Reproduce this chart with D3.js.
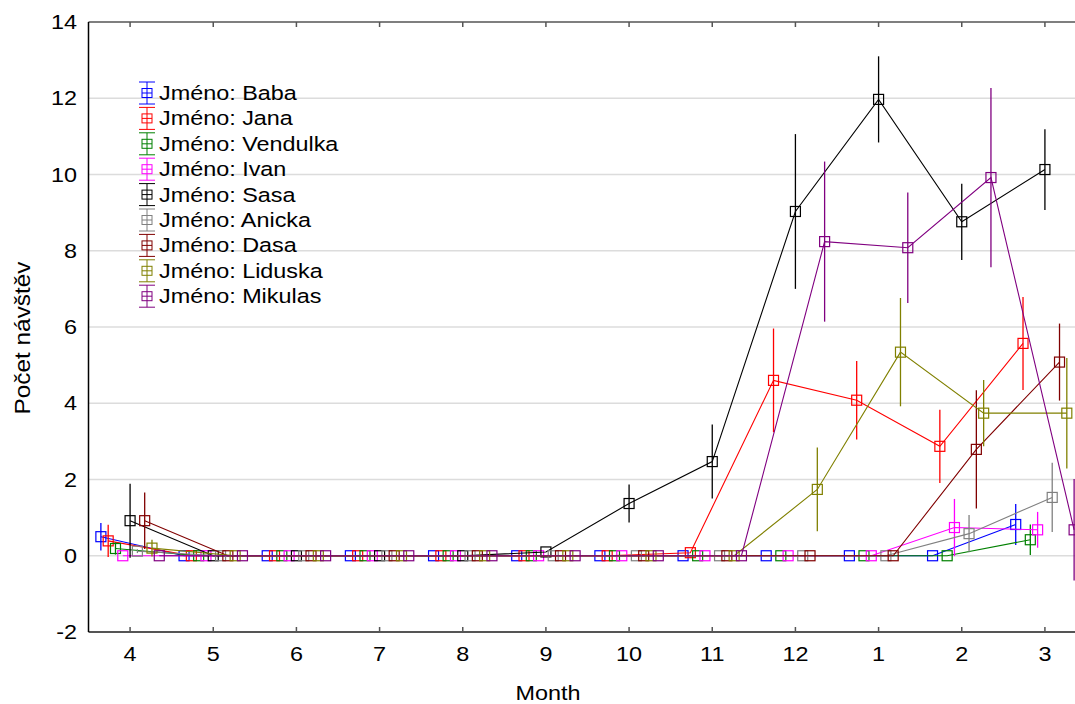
<!DOCTYPE html>
<html>
<head>
<meta charset="utf-8">
<script src="https://cdn.jsdelivr.net/npm/d3@7"></script>
<style>
body { margin: 0; background: #fff; }
svg { display: block; }
text { font-family: "Liberation Sans", Arial, sans-serif; fill: #000; }
</style>
</head>
<body>
<script>
const months = ["4","5","6","7","8","9","10","11","12","1","2","3"];
const seriesNames = ["Baba","Jana","Vendulka","Ivan","Sasa","Anicka","Dasa","Liduska","Mikulas"];
const seriesColors = ["#0000ff","#ff0000","#008000","#ff00ff","#000000","#808080","#800000","#808000","#800080"];
const yTicks = [-2,0,2,4,6,8,10,12,14];

const baba     = [0.50,0,0,0,0,0,0,0,0,0,0,0.82];
const babaErr  = [0.36,0,0,0,0,0,0,0,0,0,0,0.54];
const jana     = [0.39,0,0,0,0,0,0,0.08,4.60,4.08,2.87,5.57];
const janaErr  = [0.42,0,0,0,0,0,0,0,1.36,1.03,0.96,1.22];
const vendulka = [0.19,0,0,0,0,0,0,0,0,0,0,0.42];
const vendulkaErr = [0.16,0,0,0,0,0,0,0,0,0,0,0.40];
const ivan     = [0,0,0,0,0,0,0,0,0,0,0.74,0.68];
const ivanErr  = [0,0,0,0,0,0,0,0,0,0,0.75,0.47];
const sasa     = [0.92,0,0,0,0,0.10,1.37,2.47,9.03,11.97,8.76,10.13];
const sasaErr  = [0.97,0,0,0,0,0,0.50,0.97,2.03,1.13,1.00,1.06];
const anicka   = [0.12,0,0,0,0,0,0,0,0,0,0.58,1.53];
const anickaErr= [0.05,0,0,0,0,0,0,0,0,0,0.49,0.91];
const dasa     = [0.92,0,0,0,0,0,0,0,0,0,2.79,5.08];
const dasaErr  = [0.74,0,0,0,0,0,0,0,0,0,1.55,1.01];
const liduska  = [0.20,0,0,0,0,0,0,0,1.74,5.34,3.74,3.74];
const liduskaErr=[0.22,0,0,0,0,0,0,0,1.10,1.42,0.87,1.45];
const mikulas  = [0,0,0,0,0,0,0,0,8.24,8.08,9.92,0.68];
const mikulasErr=[0,0,0,0,0,0,0,0,2.10,1.45,2.35,1.33];

const values = [baba,jana,vendulka,ivan,sasa,anicka,dasa,liduska,mikulas];
const errors = [babaErr,janaErr,vendulkaErr,ivanErr,sasaErr,anickaErr,dasaErr,liduskaErr,mikulasErr];

(function () {
const W = 1075, H = 704;
const pL = 88.5, pR = 1086.5, pT = 22, pB = 632;
const SX = 1.2; // horizontal text stretch
const FS = 19.5;

const svg = d3.select("body").append("svg").attr("width", W).attr("height", H);

const x = d3.scaleBand().domain(months).range([pL, pR]).padding(0);
const inner = d3.scalePoint().domain(seriesNames).range([-29.2, 29.2]);
const y = d3.scaleLinear().domain([-2, 14]).range([pB, pT]);
const cx = (m, s) => x(m) + x.bandwidth() / 2 + inner(s);

function stext(g, str, tx, ty, anchor, size, rotate) {
  return g.append("text")
    .attr("transform", `translate(${tx},${ty})` + (rotate ? ` rotate(${rotate}) scale(1.25,1.1)` : ` scale(${SX},1)`))
    .attr("text-anchor", anchor)
    .style("font-size", size + "px")
    .text(str);
}

// gridlines
svg.append("g").selectAll("line").data(yTicks.filter(d => d > -2 && d < 14)).join("line")
  .attr("x1", pL).attr("x2", W).attr("y1", d => y(d)).attr("y2", d => y(d))
  .attr("stroke", "#dcdcdc").attr("stroke-width", 1.5);

// axes frame
svg.append("line").attr("x1", pL).attr("x2", W).attr("y1", pT).attr("y2", pT).attr("stroke", "#000").attr("stroke-width", 1.2);
svg.append("line").attr("x1", pL).attr("x2", W).attr("y1", pB).attr("y2", pB).attr("stroke", "#555").attr("stroke-width", 2);
svg.append("line").attr("x1", pL).attr("x2", pL).attr("y1", pT).attr("y2", pB).attr("stroke", "#000").attr("stroke-width", 1.5);

// x ticks (inward) on bottom and top
const xt = svg.append("g");
months.forEach(m => {
  const c = x(m) + x.bandwidth() / 2;
  xt.append("line").attr("x1", c).attr("x2", c).attr("y1", pB).attr("y2", pB - 5).attr("stroke", "#555").attr("stroke-width", 1.5);
  xt.append("line").attr("x1", c).attr("x2", c).attr("y1", pT).attr("y2", pT + 5).attr("stroke", "#555").attr("stroke-width", 1.5);
  stext(xt, m, c, 661, "middle", FS);
});

// y tick labels
const yt = svg.append("g");
yTicks.forEach(v => {
  stext(yt, String(v), 77, y(v) + 7, "end", FS);
});

// axis titles
stext(svg, "Month", 548, 700, "middle", FS);
stext(svg, "Počet návštěv", 30, 338, "middle", FS, -90);

// series
const plot = svg.append("g");
seriesNames.forEach((s, i) => {
  const col = seriesColors[i];
  const pts = months.map((m, j) => ({ m, v: values[i][j], e: errors[i][j] }));
  plot.append("path")
    .attr("d", d3.line().x(d => cx(d.m, s)).y(d => y(d.v))(pts))
    .attr("fill", "none").attr("stroke", col).attr("stroke-width", 1.1);
  plot.append("g").selectAll("line").data(pts.filter(d => d.e > 0)).join("line")
    .attr("x1", d => cx(d.m, s)).attr("x2", d => cx(d.m, s))
    .attr("y1", d => y(d.v + d.e)).attr("y2", d => y(d.v - d.e))
    .attr("stroke", col).attr("stroke-width", 1.3);
  plot.append("g").selectAll("rect").data(pts).join("rect")
    .attr("x", d => cx(d.m, s) - 5).attr("y", d => y(d.v) - 5)
    .attr("width", 10).attr("height", 10)
    .attr("fill", "none").attr("stroke", col).attr("stroke-width", 1.2);
});

// legend
const lg = svg.append("g");
seriesNames.forEach((s, i) => {
  const col = seriesColors[i];
  const cy = 93 + i * 25.4;
  const ix = 147;
  lg.append("line").attr("x1", ix).attr("x2", ix).attr("y1", cy - 11).attr("y2", cy + 11).attr("stroke", col);
  lg.append("line").attr("x1", ix - 8).attr("x2", ix + 8).attr("y1", cy - 11).attr("y2", cy - 11).attr("stroke", col);
  lg.append("line").attr("x1", ix - 8).attr("x2", ix + 8).attr("y1", cy + 11).attr("y2", cy + 11).attr("stroke", col);
  lg.append("rect").attr("x", ix - 5).attr("y", cy - 4.5).attr("width", 10).attr("height", 9).attr("fill", "none").attr("stroke", col);
  lg.append("line").attr("x1", ix - 5).attr("x2", ix + 5).attr("y1", cy).attr("y2", cy).attr("stroke", col);
  stext(lg, "Jméno: " + s, 159, cy + 7, "start", FS);
});
})();
</script>
</body>
</html>
